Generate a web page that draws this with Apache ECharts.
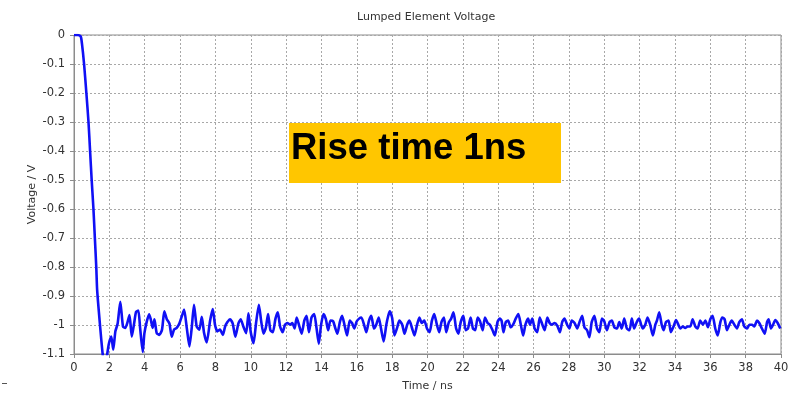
<!DOCTYPE html>
<html>
<head>
<meta charset="utf-8">
<script src="https://cdn.jsdelivr.net/npm/echarts@6/dist/echarts.min.js"></script>
<style>html,body{margin:0;padding:0;background:#fff;}#c{width:794px;height:395px;}</style>
</head>
<body>
<div id="c"></div>
<script>
// Time in ns
var times = [0,0.2,0.38,0.45,0.57,0.70,0.82,0.91,1.0,1.1,1.18,1.26,1.31,1.47,1.62,1.75,1.88,1.98,2.11,2.22,2.34,2.47,2.62,2.77,2.9,3.03,3.14,3.27,3.4,3.51,3.64,3.74,3.89,3.98,4.11,4.25,4.34,4.45,4.55,4.68,4.83,4.98,5.11,5.25,5.4,5.53,5.66,5.81,5.96,6.09,6.23,6.38,6.53,6.66,6.79,6.94,7.09,7.23,7.36,7.51,7.7,7.85,7.98,8.11,8.26,8.42,8.55,8.68,8.83,8.98,9.13,9.3,9.43,9.58,9.74,9.87,10.0,10.16,10.3,10.46,10.59,10.72,10.85,10.98,11.11,11.25,11.4,11.53,11.66,11.8,11.94,12.07,12.22,12.35,12.48,12.6,12.75,12.88,13.03,13.16,13.29,13.44,13.59,13.72,13.85,13.98,14.12,14.25,14.38,14.51,14.66,14.79,14.9,15.04,15.17,15.3,15.45,15.6,15.73,15.86,15.99,16.13,16.26,16.41,16.54,16.69,16.82,16.97,17.1,17.24,17.37,17.52,17.67,17.78,17.87,18.0,18.13,18.28,18.41,18.57,18.7,18.85,18.98,19.13,19.26,19.41,19.54,19.67,19.82,19.97,20.12,20.25,20.38,20.53,20.66,20.79,20.93,21.06,21.21,21.34,21.47,21.62,21.75,21.88,22.03,22.16,22.29,22.44,22.57,22.7,22.84,22.97,23.12,23.25,23.4,23.53,23.68,23.81,23.96,24.09,24.19,24.3,24.43,24.56,24.71,24.84,24.99,25.14,25.28,25.41,25.54,25.69,25.8,25.93,26.06,26.21,26.35,26.5,26.63,26.78,26.91,27.04,27.19,27.34,27.49,27.62,27.75,27.9,28.03,28.16,28.32,28.47,28.6,28.75,28.88,29.03,29.16,29.29,29.44,29.59,29.72,29.87,30.0,30.15,30.3,30.43,30.57,30.72,30.85,30.99,31.13,31.28,31.43,31.56,31.69,31.84,31.97,32.17,32.32,32.45,32.6,32.75,32.89,32.98,33.11,33.25,33.36,33.49,33.64,33.77,33.92,34.06,34.19,34.3,34.45,34.58,34.72,34.87,35.0,35.15,35.28,35.43,35.58,35.72,35.87,36.0,36.13,36.28,36.42,36.57,36.68,36.81,36.94,37.08,37.21,37.36,37.51,37.64,37.79,37.92,38.08,38.21,38.36,38.49,38.64,38.77,38.92,39.08,39.21,39.3,39.43,39.55,39.68,39.81,39.96];
// Voltage in V
var volts = [0,0,-0.005,-0.03,-0.1,-0.2,-0.3,-0.4,-0.5,-0.6,-0.7,-0.8,-0.88,-1.0,-1.1,-1.16,-1.1,-1.063,-1.04,-1.085,-1.022,-0.995,-0.92,-1.005,-1.01,-0.99,-0.966,-1.04,-0.995,-0.955,-0.95,-1.01,-1.093,-1.03,-0.99,-0.963,-0.98,-1.01,-0.98,-1.028,-1.034,-1.016,-0.953,-0.98,-0.995,-1.04,-1.016,-1.01,-0.995,-0.972,-0.947,-1.01,-1.074,-1.01,-0.93,-1.005,-1.016,-0.972,-1.028,-1.06,-0.985,-0.945,-1.0,-1.022,-1.016,-1.034,-1.005,-0.99,-0.98,-0.995,-1.04,-0.995,-0.98,-1.005,-1.028,-0.96,-1.025,-1.063,-0.993,-0.93,-0.987,-1.03,-1.01,-0.962,-1.018,-1.025,-0.978,-0.956,-1.005,-1.025,-0.999,-0.993,-0.999,-0.993,-1.012,-0.974,-1.005,-1.03,-0.985,-0.968,-1.025,-0.974,-0.962,-1.01,-1.065,-0.999,-0.962,-0.98,-1.018,-0.985,-0.987,-1.012,-1.03,-0.99,-0.968,-0.999,-1.036,-0.985,-0.993,-1.012,-0.988,-0.978,-0.974,-0.999,-1.025,-0.985,-0.968,-1.012,-0.999,-0.974,-1.012,-1.057,-0.999,-0.968,-0.953,-0.976,-1.036,-1.01,-0.985,-0.999,-1.03,-0.999,-0.985,-1.012,-1.036,-0.999,-0.974,-0.993,-0.985,-1.012,-1.025,-0.985,-0.962,-0.999,-1.025,-0.99,-0.974,-1.025,-0.99,-0.978,-0.956,-1.012,-1.03,-0.99,-0.968,-1.018,-1.012,-0.974,-1.012,-1.018,-0.974,-0.987,-1.018,-0.974,-0.993,-0.999,-1.018,-1.036,-0.99,-0.978,-0.985,-1.025,-0.99,-0.985,-1.008,-0.999,-0.978,-0.962,-0.999,-1.036,-0.999,-0.978,-0.999,-0.978,-1.012,-1.025,-0.974,-0.999,-1.018,-0.974,-0.993,-0.999,-0.993,-1.002,-1.025,-0.99,-0.978,-0.999,-1.012,-0.985,-0.993,-1.012,-0.99,-0.968,-1.008,-1.018,-1.042,-0.99,-0.968,-1.012,-1.025,-0.978,-0.987,-1.018,-0.99,-0.985,-1.008,-1.012,-0.99,-1.012,-0.978,-1.012,-1.018,-0.978,-1.012,-0.99,-0.978,-1.012,-0.999,-0.974,-0.999,-1.036,-0.999,-0.985,-0.956,-0.999,-1.018,-0.99,-0.985,-1.025,-1.005,-0.983,-0.999,-1.012,-1.005,-1.01,-1.005,-1.005,-0.98,-1.005,-1.012,-0.985,-0.999,-0.985,-1.008,-0.98,-0.968,-1.012,-1.036,-0.99,-0.974,-0.98,-1.018,-0.999,-0.985,-0.999,-1.012,-0.99,-0.98,-1.005,-1.012,-0.999,-0.999,-1.005,-0.985,-0.993,-1.012,-1.03,-0.99,-0.98,-1.012,-0.999,-0.983,-0.993,-1.012];
var titleText = 'Lumped Element Voltage';
var xName = 'Time / ns';
var yName = 'Voltage / V';
var noteText = 'Rise time 1ns';

var pts = times.map(function (t, i) { return [t, volts[i]]; });
var chart = echarts.init(document.getElementById('c'), null, {renderer: 'canvas'});
var axisFont = {color: '#333', fontSize: 11.5, fontFamily: 'DejaVu Sans'};
chart.setOption({
  animation: false,
  title: {text: titleText, left: 352, top: 7,
    textStyle: {fontSize: 11, fontWeight: 'normal', color: '#333', fontFamily: 'DejaVu Sans'}},
  grid: {left: 74, right: 13, top: 35, bottom: 41, show: true, borderColor: '#8c8c8c', borderWidth: 1,
    containLabel: false, outerBoundsMode: 'none'},
  xAxis: {type: 'value', min: 0, max: 40, interval: 2,
    name: xName, nameLocation: 'middle', nameGap: 27, nameMoveOverlap: false,
    nameTextStyle: {color: '#333', fontSize: 11, fontFamily: 'DejaVu Sans'},
    axisLine: {onZero: false, lineStyle: {color: '#8c8c8c'}},
    axisTick: {show: true, length: 4, lineStyle: {color: '#8c8c8c'}},
    axisLabel: Object.assign({margin: 8}, axisFont),
    splitLine: {show: true, lineStyle: {color: '#a8a8a8', type: [2, 2], width: 1}}
  },
  yAxis: {type: 'value', min: -1.1, max: 0, interval: 0.1,
    name: yName, nameLocation: 'middle', nameGap: 36, nameRotate: 90, nameMoveOverlap: false,
    nameTextStyle: {color: '#333', fontSize: 11, fontFamily: 'DejaVu Sans'},
    axisLine: {show: true, onZero: false, lineStyle: {color: '#8c8c8c'}},
    axisTick: {show: true, length: 4, lineStyle: {color: '#8c8c8c'}},
    axisLabel: Object.assign({margin: 9, formatter: function (v) { return String(Math.round(v * 10) / 10); }}, axisFont),
    splitLine: {show: true, lineStyle: {color: '#a8a8a8', type: [2, 2], width: 1}}
  },
  series: [{type: 'line', data: pts, showSymbol: false, smooth: 0.2, clip: true,
    lineStyle: {color: '#1010f5', width: 2.6}}],
  graphic: [
    {type: 'rect', shape: {x: 289, y: 123, width: 272, height: 60}, style: {fill: '#ffc600'}, z: 100},
    {type: 'text', x: 291, y: 149, z: 101, style: {text: noteText, fill: '#000', font: 'bold 36.5px "Liberation Sans", Arial, sans-serif', verticalAlign: 'middle', align: 'left'}},
    {type: 'line', shape: {x1: 2, y1: 383.5, x2: 7, y2: 383.5}, style: {stroke: '#555', lineWidth: 1}}
  ]
});
</script>
</body>
</html>
